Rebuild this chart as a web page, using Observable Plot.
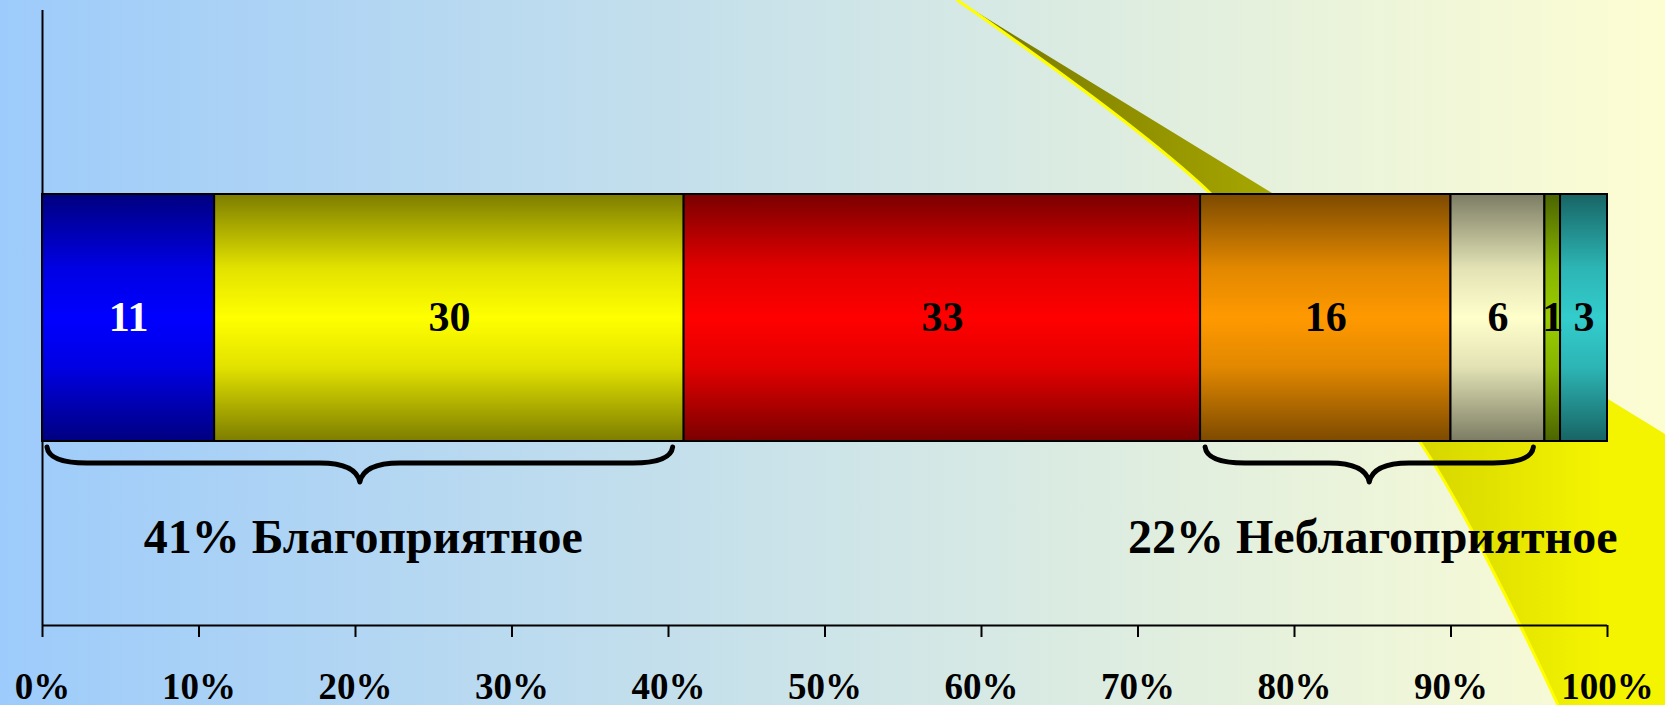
<!DOCTYPE html>
<html>
<head>
<meta charset="utf-8">
<script src="https://cdn.jsdelivr.net/npm/d3@7"></script>
<script src="https://cdn.jsdelivr.net/npm/@observablehq/plot@0.6"></script>
<style>
  html, body { margin: 0; padding: 0; width: 1665px; height: 705px; overflow: hidden; background: #fcfcd2; }
  #wrap { position: relative; width: 1665px; height: 705px; }
  #bg, #chart { position: absolute; left: 0; top: 0; }
  #chart svg, #chart svg text, #chart svg g { font-family: 'Liberation Serif', 'Times New Roman', serif !important; font-weight: bold; }
  #chart svg [aria-label^="x-axis"] { stroke-width: 2px; font-variant: normal !important; }
</style>
</head>
<body>
<div id="wrap"><div id="bg"></div><div id="chart"></div></div>
<script>
// ---- data ----
const categories = ["Категория 1", "Категория 2", "Категория 3", "Категория 4", "Категория 5", "Категория 6", "Категория 7"];
const values = [11, 30, 33, 16, 6, 1, 3];
const brightColors = ["#0000ff", "#ffff00", "#ff0000", "#ff9900", "#ffffcc", "#99cc00", "#33cccc"];
const darkColors = ["#000080", "#7d7d00", "#7a0000", "#7d4a00", "#7c7c64", "#4b6400", "#186464"];
const labelColors = ["white", "black", "black", "black", "black", "black", "black"];
const groupLabels = ["41% Благоприятное", "22% Неблагоприятное"];
const groupSegments = [[0, 1], [3, 4]];
const tickValues = [0, 10, 20, 30, 40, 50, 60, 70, 80, 90, 100];
const tickLabels = ["0%", "10%", "20%", "30%", "40%", "50%", "60%", "70%", "80%", "90%", "100%"];

// ---- derived tables ----
const ends = d3.cumsum(values);
const table = values.map((v, i) => ({i, category: categories[i], value: v, x1: ends[i] - v, x2: ends[i]}));
const groups = groupLabels.map((label, k) => {
  const [a, b] = groupSegments[k];
  return {label, start: table[a].x1, end: table[b].x2};
});

// ---- layout (y units = pixels above the x axis) ----
const W = 1665, H = 705;
const Y_TOP = 615, BAR_Y1 = 184, BAR_Y2 = 431, BAR_MID = 307.5;
const BRACE_TOP = 178, BRACE_MID = 162, BRACE_TIP = 143, GROUP_LABEL_Y = 88;
const FONT = "'Liberation Serif', 'Times New Roman', serif";

// ---- decorative background (behind the plot) ----
(function drawBackground() {
  const svg = d3.select("#bg").append("svg").attr("width", W).attr("height", H);
  const defs = svg.append("defs");
  const bg = defs.append("linearGradient").attr("id", "bg-grad").attr("x1", 0).attr("x2", 1).attr("y1", 0).attr("y2", 0);
  bg.append("stop").attr("offset", 0).attr("stop-color", "#9dcbfb");
  bg.append("stop").attr("offset", 0.5).attr("stop-color", "#cde4e8");
  bg.append("stop").attr("offset", 1).attr("stop-color", "#fdfdd2");
  const sw = defs.append("linearGradient").attr("id", "sw-grad").attr("gradientUnits", "userSpaceOnUse")
    .attr("x1", 1000).attr("x2", 1600).attr("y1", 0).attr("y2", 0);
  sw.append("stop").attr("offset", 0).attr("stop-color", "#7b7b00");
  sw.append("stop").attr("offset", 0.45).attr("stop-color", "#a6a600");
  sw.append("stop").attr("offset", 0.7).attr("stop-color", "#d6d600");
  sw.append("stop").attr("offset", 1).attr("stop-color", "#f4f400");
  table.forEach((d) => {
    const mid = d3.interpolateRgb(darkColors[d.i], brightColors[d.i])(0.78);
    const lg = defs.append("linearGradient").attr("id", "seg-grad-" + d.i)
      .attr("x1", 0).attr("x2", 0).attr("y1", 0).attr("y2", 1);
    lg.append("stop").attr("offset", 0).attr("stop-color", darkColors[d.i]);
    lg.append("stop").attr("offset", 0.3).attr("stop-color", mid);
    lg.append("stop").attr("offset", 0.5).attr("stop-color", brightColors[d.i]);
    lg.append("stop").attr("offset", 0.7).attr("stop-color", mid);
    lg.append("stop").attr("offset", 1).attr("stop-color", darkColors[d.i]);
  });
  svg.append("rect").attr("x", 0).attr("y", 0).attr("width", W).attr("height", H).attr("fill", "url(#bg-grad)");
  const edge = [[957, 0], [1210, 193], [1420, 442], [1558, H]];
  const curve = d3.line().curve(d3.curveCatmullRom)(edge);
  svg.append("path").attr("d", curve + `L${W},${H}L${W},434Z`).attr("fill", "url(#sw-grad)");
  svg.append("path").attr("d", curve).attr("fill", "none").attr("stroke", "#ffff00").attr("stroke-width", 3);
})();

function braceMark(index, scales) {
  const {x, y} = scales;
  const g = d3.create("svg:g").attr("fill", "none").attr("stroke", "black").attr("stroke-width", 5).attr("stroke-linecap", "round").attr("stroke-linejoin", "round");
  groups.forEach((gr) => {
    const a = x(gr.start) + 5, b = x(gr.end) - 11, c = (a + b) / 2;
    const y0 = y(BRACE_TOP), y1 = y(BRACE_MID), y2 = y(BRACE_TIP);
    const r = 40;
    const p = d3.path();
    p.moveTo(a, y0);
    p.quadraticCurveTo(a + 2, y1, a + r, y1);
    p.lineTo(c - r, y1);
    p.quadraticCurveTo(c - 4, y1, c, y2);
    p.quadraticCurveTo(c + 4, y1, c + r, y1);
    p.lineTo(b - r, y1);
    p.quadraticCurveTo(b - 2, y1, b, y0);
    g.append("path").attr("d", p.toString());
  });
  return g.node();
}

const chart = Plot.plot({
  width: W,
  height: H,
  marginLeft: 42,
  marginRight: 58,
  marginTop: 10,
  marginBottom: 80,
  style: {background: "transparent", fontFamily: FONT, fontWeight: "bold", fontSize: "37px", color: "black", overflow: "visible"},
  x: {domain: [0, 100], ticks: tickValues, tickFormat: (d) => tickLabels[tickValues.indexOf(d)], tickSize: 12, tickPadding: 35, label: null},
  y: {domain: [0, Y_TOP], axis: null},
  color: {type: "identity"},
  marks: [
    Plot.ruleY([0], {x1: 0, x2: 100, stroke: "black", strokeWidth: 2}),
    Plot.ruleX([0], {y1: 0, y2: Y_TOP, stroke: "black", strokeWidth: 2}),
    Plot.rect(table, {x1: "x1", x2: "x2", y1: BAR_Y1, y2: BAR_Y2, fill: (d) => `url(#seg-grad-${d.i})`, stroke: "black", strokeWidth: 2}),
    Plot.text(table, {x: (d) => (d.x1 + d.x2) / 2, y: BAR_MID, text: (d) => String(d.value), fill: (d) => labelColors[d.i], fontSize: 42, fontWeight: "bold"}),
    braceMark,
    Plot.text(groups, {x: (d) => (d.start + d.end) / 2, y: GROUP_LABEL_Y, text: "label", fill: "black", fontSize: 48, fontWeight: "bold"})
  ]
});
document.getElementById("chart").appendChild(chart);
</script>
</body>
</html>
